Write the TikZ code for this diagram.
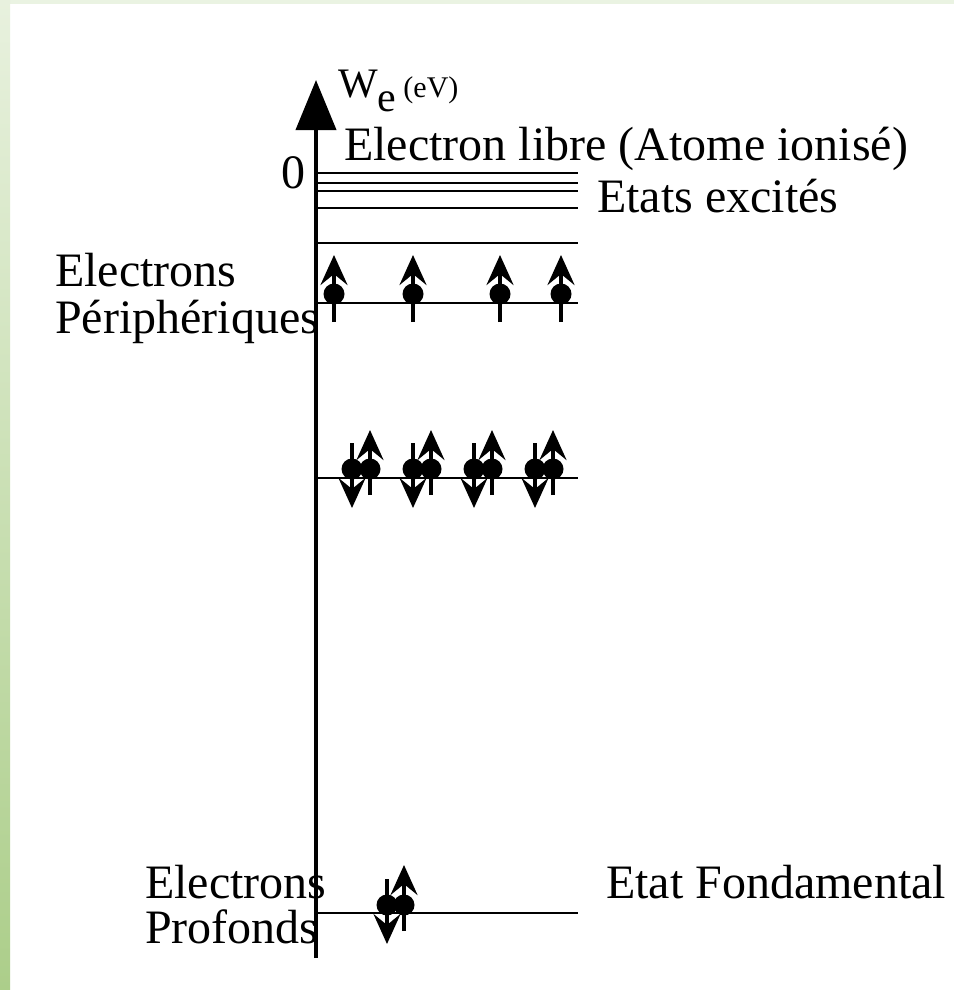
\documentclass[tikz,border=0pt]{standalone}
\usepackage{fontspec}
\setmainfont{Liberation Serif}
\usetikzlibrary{arrows.meta}
\definecolor{stripcol}{RGB}{234,243,226}
\definecolor{striptop}{RGB}{232,241,222}
\definecolor{stripbot}{RGB}{172,206,138}
\tikzset{
    axis/.style={line width=4pt,-{Triangle[length=50pt,width=40pt]}},
    level/.style={line width=2.5pt},
    spin/.style={line width=4pt,-{Stealth[length=30pt,width=27pt,inset=11pt]}},
    dot/.style={circle,fill=black,inner sep=0pt,minimum size=21pt},
    lbl/.style={font=\fontsize{48}{48}\selectfont,inner sep=0pt},
}
\begin{document}
\begin{tikzpicture}[x=1pt,y=-1pt]
    \useasboundingbox (0,0) rectangle (954,990);
    \fill[white] (0,0) rectangle (954,990);
    \fill[stripcol] (0,0) rectangle (954,4);
    \shade[top color=striptop,bottom color=stripbot] (0,0) rectangle (10,990);
    % axe des energies
    \coordinate (axisbot) at (316,958);
    \coordinate (axistop) at (316,80);
    \draw[axis] (axisbot) -- (axistop);
    % niveaux
    \foreach \y in {173,183,191,208,243,303,478,913}
    {
        \draw[level] (316,\y) -- (578,\y);
    }
    % electrons peripheriques
    \foreach \x in {334,413,500,561}
    {
        \node[dot] at (\x,294) {};
        \draw[spin] (\x,322) -- (\x,255);
    }
    % paires d'electrons
    \foreach \x in {352,413,474,535}
    {
        \node[dot] at (\x,469) {};
        \node[dot] at (\x+18,469) {};
        \draw[spin] (\x,443) -- (\x,508);
        \draw[spin] (\x+18,495) -- (\x+18,430);
    }
    % electrons profonds
    \node[dot] (down) at (387,905) {};
    \node[dot] (up) at (404,905) {};
    \draw[spin] (387,879) -- (387,944);
    \draw[spin] (404,931) -- (404,865);
    % textes
    \node[anchor=base west,inner sep=0pt] (unit) at (338,97)
        {\fontsize{42}{42}\selectfont W\raisebox{-14pt}{e}\,\fontsize{30}{30}\selectfont (eV)};
    \node[lbl,anchor=base east] (zero) at (306,188) {0};
    \node[lbl,anchor=base west] (libre) at (344,160) {Electron libre (Atome ionisé)};
    \node[lbl,anchor=base west] (excit) at (597,212) {Etats excités};
    \node[lbl,anchor=base west] (peri1) at (55,286) {Electrons};
    \node[lbl,anchor=base west] (peri2) at (55,333) {Périphériques};
    \node[lbl,anchor=base west] (prof1) at (145,898) {Electrons};
    \node[lbl,anchor=base west] (prof2) at (145,943) {Profonds};
    \node[lbl,anchor=base west] (fond) at (606,898) {Etat Fondamental};
\end{tikzpicture}
\end{document}
